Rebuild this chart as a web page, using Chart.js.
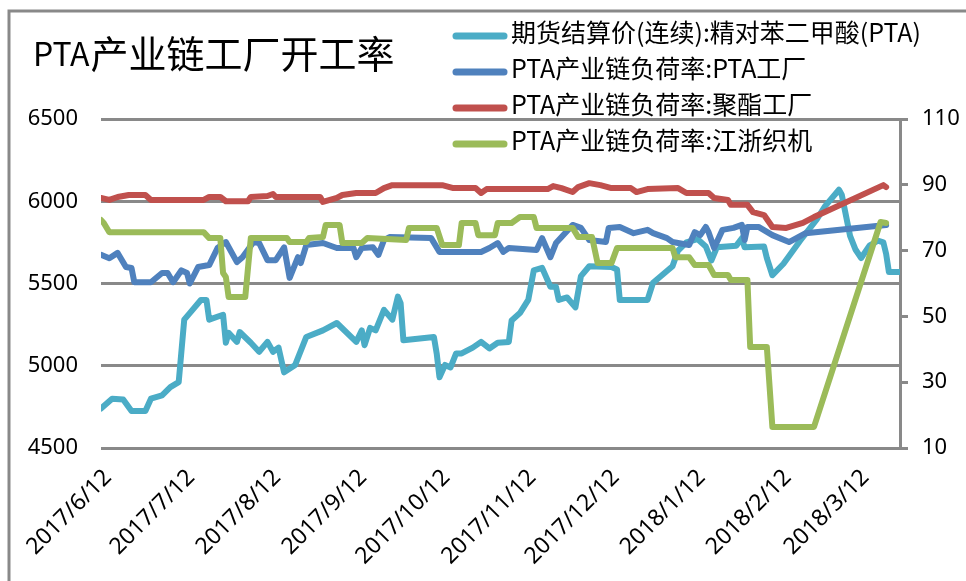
<!DOCTYPE html>
<html>
<head>
<meta charset="utf-8">
<script src="https://cdn.jsdelivr.net/npm/chart.js@4.4.1/dist/chart.umd.min.js"></script>
<style>
  html, body { margin: 0; padding: 0; background: #fff; }
  canvas { display: block; }
</style>
</head>
<body>
<canvas id="ptaChart" width="966" height="581"></canvas>
<script>
// 期货结算价(连续):精对苯二甲酸(PTA) - 左轴
const priceDates = ['2017-06-12','2017-06-16','2017-06-20','2017-06-23','2017-06-28','2017-06-30','2017-07-04','2017-07-07','2017-07-10','2017-07-12','2017-07-14','2017-07-18','2017-07-20','2017-07-21','2017-07-26','2017-07-27','2017-07-28','2017-07-31','2017-08-01','2017-08-05','2017-08-08','2017-08-11','2017-08-13','2017-08-15','2017-08-17','2017-08-21','2017-08-25','2017-08-31','2017-09-05','2017-09-12','2017-09-14','2017-09-15','2017-09-17','2017-09-19','2017-09-22','2017-09-23','2017-09-25','2017-09-27','2017-09-28','2017-09-29','2017-10-10','2017-10-11','2017-10-12','2017-10-14','2017-10-16','2017-10-18','2017-10-20','2017-10-24','2017-10-27','2017-10-30','2017-11-02','2017-11-06','2017-11-07','2017-11-10','2017-11-13','2017-11-15','2017-11-18','2017-11-21','2017-11-23','2017-11-24','2017-11-27','2017-11-30','2017-12-02','2017-12-05','2017-12-13','2017-12-15','2017-12-16','2017-12-26','2017-12-28','2018-01-04','2018-01-06','2018-01-09','2018-01-13','2018-01-16','2018-01-18','2018-01-20','2018-01-27','2018-01-29','2018-01-30','2018-02-06','2018-02-07','2018-02-09','2018-02-13','2018-02-19','2018-02-25','2018-02-28','2018-03-05','2018-03-06','2018-03-09','2018-03-11','2018-03-13','2018-03-16','2018-03-19','2018-03-21','2018-03-22','2018-03-23','2018-03-27'];
const priceValues = [4740,4800,4795,4725,4725,4800,4820,4870,4900,5280,5320,5400,5400,5280,5310,5140,5200,5145,5205,5140,5085,5145,5085,5110,4960,5005,5175,5215,5260,5145,5215,5125,5230,5215,5340,5320,5280,5420,5380,5155,5175,5075,4930,5005,4990,5075,5075,5110,5145,5105,5140,5145,5275,5320,5400,5580,5595,5480,5480,5400,5415,5355,5545,5605,5600,5585,5400,5400,5505,5605,5700,5750,5770,5725,5640,5720,5730,5775,5720,5725,5655,5550,5620,5760,5890,5970,6070,6040,5790,5705,5655,5730,5760,5750,5680,5570,5570];

// PTA产业链负荷率:PTA工厂 - 右轴
const ptaDates = ['2017-06-12','2017-06-15','2017-06-18','2017-06-21','2017-06-23','2017-06-24','2017-06-30','2017-07-04','2017-07-06','2017-07-08','2017-07-11','2017-07-13','2017-07-14','2017-07-17','2017-07-21','2017-07-24','2017-07-27','2017-07-31','2017-08-02','2017-08-06','2017-08-08','2017-08-11','2017-08-14','2017-08-17','2017-08-19','2017-08-22','2017-08-23','2017-08-25','2017-08-31','2017-09-05','2017-09-11','2017-09-12','2017-09-14','2017-09-18','2017-09-20','2017-09-22','2017-09-24','2017-10-09','2017-10-12','2017-10-27','2017-10-30','2017-11-02','2017-11-04','2017-11-06','2017-11-16','2017-11-18','2017-11-21','2017-11-23','2017-11-24','2017-11-29','2017-12-02','2017-12-05','2017-12-11','2017-12-12','2017-12-16','2017-12-21','2017-12-26','2017-12-28','2018-01-02','2018-01-04','2018-01-10','2018-01-12','2018-01-14','2018-01-16','2018-01-17','2018-01-19','2018-01-22','2018-01-26','2018-01-29','2018-01-30','2018-01-31','2018-02-04','2018-02-09','2018-02-15','2018-02-21','2018-03-22'];
const ptaValues = [68.7,67.7,69.3,65,64.7,60.4,60.4,63.2,63.2,60.4,64,63.2,60,65,65.6,70.8,72.6,66.5,68,72.6,72.3,67.1,67.1,71,61.7,68,66.2,71.7,72.3,70.8,70.8,68,70.8,71,68.7,73.2,74.1,73.8,69.6,69.6,70.8,72.3,69.6,70.8,70.2,73.8,68,72.3,73.2,77.8,76.9,73.2,72.6,76.9,77.2,75.3,76.3,75.3,73.8,72.6,71.7,75.6,74.7,77.2,75.6,70.8,76.3,76.9,77.8,73.2,77.2,77.2,74.7,72.6,75.3,77.8];

// PTA产业链负荷率:聚酯工厂 - 右轴
const polyDates = ['2017-06-12','2017-06-15','2017-06-18','2017-06-22','2017-06-28','2017-06-30','2017-07-19','2017-07-21','2017-07-25','2017-07-27','2017-08-04','2017-08-05','2017-08-11','2017-08-13','2017-08-14','2017-08-30','2017-08-31','2017-09-05','2017-09-07','2017-09-12','2017-09-19','2017-09-22','2017-09-25','2017-10-13','2017-10-17','2017-10-25','2017-10-27','2017-10-29','2017-11-20','2017-11-22','2017-11-25','2017-11-29','2017-12-01','2017-12-05','2017-12-09','2017-12-13','2017-12-20','2017-12-22','2017-12-26','2018-01-06','2018-01-09','2018-01-17','2018-01-19','2018-01-24','2018-01-25','2018-01-31','2018-02-02','2018-02-06','2018-02-08','2018-02-09','2018-02-14','2018-02-20','2018-02-24','2018-03-21','2018-03-22'];
const polyValues = [86,85.4,86.3,86.9,86.9,85.4,85.4,86.3,86.3,85,85,86.3,86.6,87.2,86.3,86.3,84.8,86,86.9,87.5,87.5,89,89.9,89.9,89,89,87.5,88.7,88.7,89.6,89,87.8,89.3,90.5,89.9,89,89,87.8,88.7,89,87.5,87.5,86,85.4,83.9,83.9,81.7,80.8,78.4,77.2,76.9,78.4,80.2,89.9,89.3];

// PTA产业链负荷率:江浙织机 - 右轴
const loomDates = ['2017-06-12','2017-06-13','2017-06-15','2017-07-19','2017-07-21','2017-07-25','2017-07-26','2017-07-27','2017-07-28','2017-08-03','2017-08-05','2017-08-18','2017-08-19','2017-08-25','2017-08-26','2017-08-31','2017-09-01','2017-09-06','2017-09-07','2017-09-14','2017-09-16','2017-09-30','2017-10-01','2017-10-11','2017-10-13','2017-10-19','2017-10-20','2017-10-25','2017-10-26','2017-11-01','2017-11-02','2017-11-07','2017-11-10','2017-11-15','2017-11-16','2017-11-29','2017-12-01','2017-12-06','2017-12-08','2017-12-13','2017-12-15','2018-01-04','2018-01-05','2018-01-10','2018-01-12','2018-01-17','2018-01-19','2018-01-24','2018-01-25','2018-01-31','2018-02-01','2018-02-07','2018-02-09','2018-02-24','2018-03-20','2018-03-22'];
const loomValues = [79.3,78.4,75.6,75.6,73.8,73.8,63.2,62,55.9,55.9,73.8,73.8,72.6,72.6,73.8,74.1,77.8,77.8,72.3,72.3,73.8,73.2,76.9,76.9,71.7,71.7,78.4,78.4,74.7,74.7,78.4,78.4,80.2,80.2,76.9,76.9,74.1,74.1,66.2,66.2,70.8,70.8,68,68,65.6,65.6,62.6,62.6,61.1,61.1,40.7,40.7,16.4,16.4,78.7,78.4];

const tickDates = ['2017-06-12','2017-07-12','2017-08-12','2017-09-12','2017-10-12','2017-11-12','2017-12-12','2018-01-12','2018-02-12','2018-03-12'];
const tickLabels = ['2017/6/12','2017/7/12','2017/8/12','2017/9/12','2017/10/12','2017/11/12','2017/12/12','2018/1/12','2018/2/12','2018/3/12'];
const leftTicks = [4500, 5000, 5500, 6000, 6500];
const rightTicks = [10, 30, 50, 70, 90, 110];

const seriesNames = ['期货结算价(连续):精对苯二甲酸(PTA)', 'PTA产业链负荷率:PTA工厂', 'PTA产业链负荷率:聚酯工厂', 'PTA产业链负荷率:江浙织机'];
const seriesColors = ['#4BACC6', '#4F81BD', '#C0504D', '#9BBB59'];

const START = Date.UTC(2017, 5, 12);
function dayOf(s) {
  const p = s.split('-').map(Number);
  return (Date.UTC(p[0], p[1] - 1, p[2]) - START) / 86400000;
}
function points(dates, vals) {
  return dates.map((d, i) => ({ x: dayOf(d), y: vals[i] }));
}

const GRID = '#898989';
const FONT_CJK = "'Noto Sans CJK SC', 'Noto Sans', sans-serif";

// 标题、图例、外框
const decorPlugin = {
  id: 'decor',
  afterDraw(chart) {
    const ctx = chart.ctx;
    ctx.save();
    ctx.strokeStyle = GRID;
    ctx.lineWidth = 3;
    ctx.strokeRect(9, 11, 1200, 1200);

    ctx.fillStyle = '#000';
    ctx.textBaseline = 'alphabetic';
    ctx.font = '32px ' + FONT_CJK;
    ctx.fillText('PTA', 33, 66);
    const w = ctx.measureText('PTA').width;
    ctx.font = '38px ' + FONT_CJK;
    ctx.fillText('产业链工厂开工率', 33 + w + 1, 68);

    ctx.font = '25px ' + FONT_CJK;
    ctx.textBaseline = 'middle';
    seriesNames.forEach((name, i) => {
      const y = 36 + i * 36;
      ctx.strokeStyle = seriesColors[i];
      ctx.lineWidth = 7;
      ctx.lineCap = 'round';
      ctx.beginPath();
      ctx.moveTo(456, y);
      ctx.lineTo(504, y);
      ctx.stroke();
      ctx.fillStyle = '#000';
      ctx.fillText(name, 511, y - 4);
    });
    ctx.restore();
  }
};

const lineStyle = {
  borderWidth: 6,
  pointRadius: 0,
  tension: 0,
  borderJoinStyle: 'round',
  borderCapStyle: 'round',
  fill: false
};

new Chart(document.getElementById('ptaChart').getContext('2d'), {
  type: 'line',
  data: {
    datasets: [
      { ...lineStyle, label: seriesNames[0], data: points(priceDates, priceValues), borderColor: seriesColors[0], yAxisID: 'yL', order: 4 },
      { ...lineStyle, label: seriesNames[1], data: points(ptaDates, ptaValues), borderColor: seriesColors[1], yAxisID: 'yR', order: 3 },
      { ...lineStyle, label: seriesNames[2], data: points(polyDates, polyValues), borderColor: seriesColors[2], yAxisID: 'yR', order: 2 },
      { ...lineStyle, label: seriesNames[3], data: points(loomDates, loomValues), borderColor: seriesColors[3], yAxisID: 'yR', order: 1 }
    ]
  },
  options: {
    responsive: false,
    animation: false,
    events: [],
    layout: { padding: { top: 119, left: 0, right: 0, bottom: 0 } },
    plugins: { legend: { display: false }, title: { display: false }, tooltip: { enabled: false } },
    scales: {
      x: {
        type: 'linear',
        min: 0,
        max: 288,
        grid: { display: false },
        border: { display: false },
        afterBuildTicks(scale) {
          scale.ticks = tickDates.map(d => ({ value: dayOf(d) }));
        },
        afterFit(scale) { scale.height = 133; },
        ticks: {
          autoSkip: false,
          minRotation: 45,
          maxRotation: 45,
          padding: 8,
          labelOffset: 7,
          color: '#000',
          font: { family: 'Noto Sans', size: 23 },
          callback: (v, i) => tickLabels[i]
        }
      },
      yL: {
        position: 'left',
        min: 4500,
        max: 6500,
        afterBuildTicks(scale) {
          scale.ticks = leftTicks.map(v => ({ value: v }));
        },
        afterFit(scale) { scale.width = 101; },
        grid: { color: GRID, lineWidth: 3, drawTicks: false },
        border: { display: false },
        ticks: { padding: 23, color: '#000', font: { family: 'Noto Sans', size: 22 }, callback: v => String(v) }
      },
      yR: {
        position: 'right',
        min: 10,
        max: 110,
        afterBuildTicks(scale) {
          scale.ticks = rightTicks.map(v => ({ value: v }));
        },
        afterFit(scale) { scale.width = 66; },
        grid: { drawOnChartArea: false, color: GRID, lineWidth: 3, tickLength: 8, tickColor: GRID, tickWidth: 3 },
        border: { display: true, color: GRID, width: 3 },
        ticks: { padding: 14, color: '#000', font: { family: 'Noto Sans', size: 22 }, callback: v => String(v) }
      }
    }
  },
  plugins: [decorPlugin]
});
</script>
</body>
</html>
